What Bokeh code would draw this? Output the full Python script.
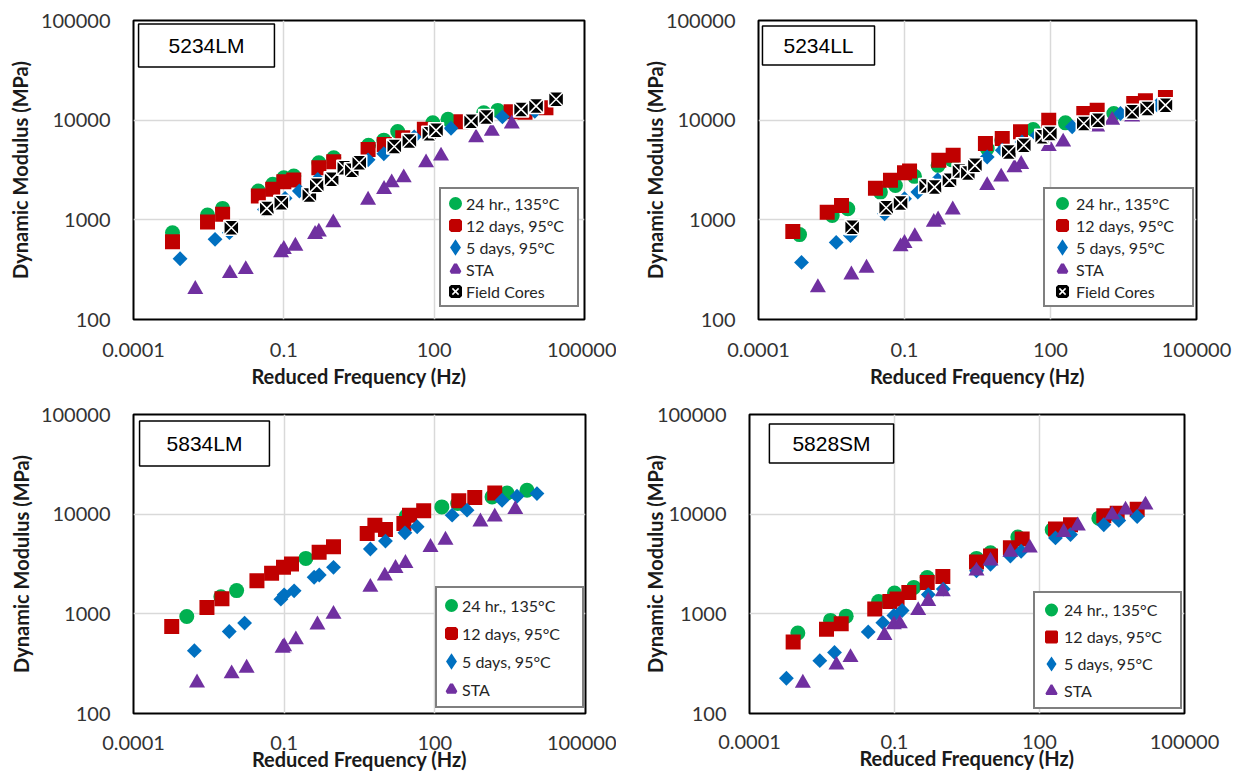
from bokeh.plotting import figure
from bokeh.models import (Range1d, FixedTicker, CustomJSTickFormatter, Legend,
                          LegendItem, Label)
from bokeh.layouts import row, column
from bokeh.embed import file_html
from bokeh.resources import INLINE
import math

# ---------------- data ----------------
series_labels = ["24 hr., 135°C", "12 days, 95°C", "5 days, 95°C", "STA", "Field Cores"]
x_ticks = [0.0001, 0.1, 100, 100000]
y_ticks = [100, 1000, 10000, 100000]

# Panel 5234LM
lm_24hr_f = [6.0e-4, 3.0e-3, 6.0e-3, 0.031, 0.06, 0.10, 0.158, 0.50, 0.99, 4.9, 9.9, 18.7, 94, 189, 977, 1860]
lm_24hr_e = [743, 1117, 1303, 1945, 2270, 2645, 2750, 3740, 4200, 5600, 6300, 7700, 9420, 10200, 11860, 12530]
lm_12d_f = [6.0e-4, 3.0e-3, 6.0e-3, 0.031, 0.06, 0.10, 0.158, 0.50, 0.99, 4.8, 10.1, 23.6, 63.7, 344, 3430, 6500, 17000]
lm_12d_e = [603, 950, 1135, 1733, 2023, 2410, 2510, 3335, 3830, 5090, 5710, 6670, 8090, 9640, 12160, 12000, 13300]
lm_5d_f = [8.5e-4, 4.24e-3, 8.2e-3, 0.041, 0.106, 0.204, 0.475, 4.8, 9.9, 40, 217, 2300, 10200]
lm_5d_e = [407, 637, 743, 1273, 1643, 1945, 2547, 4000, 4600, 6800, 8300, 10800, 12300]
lm_sta_f = [1.71e-3, 8.4e-3, 0.0174, 0.088, 0.10, 0.17, 0.42, 0.50, 0.97, 4.8, 10, 14.2, 24.7, 68.9, 137, 686, 1412, 3540]
lm_sta_e = [201, 290, 318, 468, 506, 546, 715, 755, 935, 1580, 2023, 2356, 2645, 3740, 4370, 6670, 7760, 9200]
lm_fc_f = [8.95e-3, 0.0457, 0.089, 0.323, 0.454, 0.90, 1.61, 2.27, 3.2, 16, 32, 80, 109, 546, 1087, 5430, 10800, 27100]
lm_fc_e = [833, 1303, 1486, 1774, 2218, 2547, 3335, 3140, 3740, 5450, 6170, 7310, 7900, 9780, 10740, 12830, 13840, 16180]

# Panel 5234LL
ll_24hr_f = [6.97e-4, 3.27e-3, 6.85e-3, 0.032, 0.065, 0.16, 0.49, 0.95, 5.0, 10, 44, 203, 2000, 10300]
ll_24hr_e = [711, 1105, 1290, 1897, 2213, 2730, 3520, 4000, 5190, 6300, 8050, 9400, 11670, 13600]
ll_12d_f = [5.07e-4, 2.58e-3, 5.08e-3, 0.0253, 0.0515, 0.10, 0.127, 0.507, 1.0, 4.6, 10.2, 24.2, 92, 483, 910, 5130, 8920, 23000]
ll_12d_e = [762, 1193, 1393, 2080, 2490, 2970, 3090, 3950, 4440, 5820, 6550, 7640, 10000, 11670, 12600, 14720, 15630, 16900]
ll_5d_f = [7.65e-4, 3.95e-3, 7.76e-3, 0.039, 0.10, 0.188, 0.48, 5.0, 10.2, 26, 53, 279, 2740, 15600]
ll_5d_e = [374, 594, 695, 1149, 1626, 1897, 2530, 4270, 4990, 6050, 7060, 8570, 11670, 14150]
ll_sta_f = [1.66e-3, 8.1e-3, 0.0166, 0.083, 0.10, 0.163, 0.40, 0.49, 0.98, 5.0, 9.7, 18.2, 25, 92, 182, 910, 1850, 4760]
ll_sta_e = [209, 281, 328, 538, 581, 679, 946, 1000, 1260, 2213, 2690, 3340, 3610, 5470, 6050, 8570, 10000, 10800]
ll_fc_f = [8.4e-3, 0.042, 0.083, 0.279, 0.413, 0.84, 1.35, 2.0, 2.8, 13.9, 28.3, 67.5, 97, 483, 937, 4760, 9700, 23000]
ll_fc_e = [843, 1321, 1472, 2180, 2130, 2490, 3090, 2950, 3520, 4800, 5600, 6800, 7350, 9250, 10000, 12130, 13100, 14150]

# Panel 5834LM
m8_24hr_f = [1.15e-3, 5.5e-3, 0.0113, 0.27, 27, 138, 285, 1380, 2740, 6840]
m8_24hr_e = [940, 1480, 1710, 3600, 9550, 11830, 12800, 14900, 16330, 17380]
m8_12d_f = [5.77e-4, 2.9e-3, 5.77e-3, 0.0287, 0.0562, 0.097, 0.14, 0.497, 0.96, 4.5, 6.4, 10.4, 24.2, 31.3, 60, 300, 624, 1560]
m8_12d_e = [747, 1157, 1413, 2150, 2550, 2930, 3160, 4140, 4710, 6410, 7760, 7030, 8070, 9770, 10800, 13600, 14690, 16330]
m8_5d_f = [1.63e-3, 8.07e-3, 0.0163, 0.086, 0.10, 0.158, 0.395, 0.5, 0.96, 5.2, 10.4, 25.4, 44.5, 221, 438, 2180, 4330, 10800]
m8_5d_e = [427, 665, 807, 1403, 1550, 1700, 2330, 2450, 2930, 4470, 5370, 6500, 7470, 9770, 10960, 13800, 15140, 16100]
m8_sta_f = [1.84e-3, 9.0e-3, 0.0179, 0.093, 0.10, 0.171, 0.46, 0.96, 5.2, 10.1, 16.5, 26, 82, 163, 808, 1560, 4000]
m8_sta_e = [203, 251, 286, 454, 470, 550, 776, 993, 1850, 2400, 2860, 3210, 4650, 5500, 8380, 9400, 11140]

# Panel 5828SM
sm_24hr_f = [1.0e-3, 4.74e-3, 0.01, 0.047, 0.10, 0.251, 0.475, 4.97, 9.7, 35.6, 183, 1690]
sm_24hr_e = [643, 859, 948, 1327, 1618, 1842, 2313, 3600, 4100, 5910, 6980, 9120]
sm_12d_f = [8.0e-4, 3.92e-3, 7.9e-3, 0.039, 0.08, 0.113, 0.198, 0.475, 1.0, 4.97, 9.7, 25, 43.8, 214, 438, 2140, 4050, 10500]
sm_12d_e = [523, 700, 796, 1121, 1327, 1409, 1641, 2066, 2366, 3310, 3800, 4590, 5650, 7090, 7830, 9620, 10230, 11210]
sm_5d_f = [5.8e-4, 2.85e-3, 5.74e-3, 0.0286, 0.0573, 0.097, 0.144, 0.5, 1.02, 4.97, 9.7, 25, 41.7, 214, 438, 2140, 4370, 10500]
sm_5d_e = [226, 339, 410, 658, 815, 964, 1081, 1561, 1771, 2700, 3140, 3800, 4250, 5780, 6240, 7830, 8650, 9480]
sm_sta_f = [1.27e-3, 6.3e-3, 0.0123, 0.062, 0.097, 0.129, 0.309, 0.5, 1.0, 4.97, 9.7, 25, 63, 318, 621, 3190, 6030, 15600]
sm_sta_e = [202, 307, 365, 609, 778, 796, 1081, 1336, 1667, 2690, 3390, 4170, 4590, 6580, 7650, 9840, 11040, 12360]

# ---------------- styling ----------------
GREEN, RED, BLUE, PURPLE = "#00B050", "#C00000", "#0070C0", "#7030A0"
TICK_FONT = "Lato"
fmt_code = "return tick.toString();"


def make_panel(name, series, width, height, borders, ylab_standoff, xlab_standoff,
               xtitle_standoff, box, legend_cfg):
    bl, br, bt, bb = borders
    p = figure(width=width, height=height, x_axis_type="log", y_axis_type="log",
               x_range=Range1d(x_ticks[0], x_ticks[-1]),
               y_range=Range1d(y_ticks[0], y_ticks[-1]),
               toolbar_location=None, output_backend="svg",
               min_border_left=bl, min_border_right=br,
               min_border_top=bt, min_border_bottom=bb)
    p.background_fill_color = "white"
    p.border_fill_color = "white"
    p.outline_line_color = "black"
    p.outline_line_width = 2

    for ax, ticks in ((p.xaxis, x_ticks), (p.yaxis, y_ticks)):
        ax.ticker = FixedTicker(ticks=ticks)
        ax.formatter = CustomJSTickFormatter(code=fmt_code)
        ax.axis_line_color = None
        ax.major_tick_line_color = None
        ax.minor_tick_line_color = None
        ax.major_tick_in = 0
        ax.major_tick_out = 0
        ax.major_label_text_font = TICK_FONT
        ax.major_label_text_font_size = "20px"
        ax.major_label_text_color = "#333333"
        ax.axis_label_text_font = TICK_FONT
        ax.axis_label_text_font_size = "20px"
        ax.axis_label_text_font_style = "bold"
        ax.axis_label_text_color = "#1a1a1a"
    p.xaxis.axis_label = "Reduced Frequency (Hz)"
    p.yaxis.axis_label = "Dynamic Modulus (MPa)"
    p.yaxis.major_label_standoff = 23
    p.yaxis.axis_label_standoff = ylab_standoff
    p.xaxis.major_label_standoff = xlab_standoff
    p.xaxis.axis_label_standoff = xtitle_standoff

    for g in (p.xgrid, p.ygrid):
        g.grid_line_color = "#D9D9D9"
        g.grid_line_width = 1.5

    vx, vy, gw, gh, lw, pad = legend_cfg
    extra = max(0.0, 13.0 - 0.4 * min(gw, gh))   # outline that enlarges legend markers

    items = []
    for (f, e, kind) in series:
        if kind == 0:
            p.scatter(f, e, marker="circle", size=15, fill_color=GREEN, line_color=None)
            d = [p.scatter(f, e, marker="circle", fill_color=GREEN, line_color=GREEN,
                           line_width=extra, visible=False)]
        elif kind == 1:
            p.scatter(f, e, marker="square", size=15, fill_color=RED, line_color=None)
            d = [p.scatter(f, e, marker="square", fill_color=RED, line_color=RED,
                           line_width=extra, visible=False)]
        elif kind == 2:
            p.scatter(f, e, marker="square", size=10.5, angle=math.pi / 4,
                      fill_color=BLUE, line_color=None)
            d = [p.scatter(f, e, marker="diamond", fill_color=BLUE, line_color=BLUE,
                           line_width=extra, line_join="miter", visible=False)]
        elif kind == 3:
            p.scatter(f, e, marker="triangle", size=16, fill_color=PURPLE, line_color=None)
            d = [p.scatter(f, e, marker="triangle", fill_color=PURPLE, line_color=PURPLE,
                           line_width=extra * 0.8, visible=False)]
        else:
            p.scatter(f, e, marker="square_x", size=15, fill_color="black",
                      line_color="white", line_width=1.5)
            d = [p.scatter(f, e, marker="square", fill_color="black", line_color="black",
                           line_width=extra, visible=False),
                 p.scatter(f, e, marker="x", line_color="white", line_width=1.5,
                           visible=False)]
        items.append(LegendItem(label=series_labels[kind], renderers=d))

    leg = Legend(items=items, location=(vx, vy), orientation="vertical",
                 glyph_width=gw, glyph_height=gh, label_standoff=0, label_width=lw,
                 label_height=gh, spacing=0, padding=pad, margin=0,
                 border_line_color="black", border_line_width=2,
                 background_fill_color="white", background_fill_alpha=1.0,
                 inactive_fill_alpha=0.0,
                 label_text_font=TICK_FONT, label_text_font_size="16px",
                 label_text_color="#262626")
    p.add_layout(leg)

    bx, by, ph, pv = box
    p.add_layout(Label(x=bx, y=by, x_units="screen", y_units="screen", text=name,
                       text_align="center", text_baseline="middle",
                       text_font="Liberation Sans", text_font_size="21px",
                       text_color="black", border_line_color="black",
                       border_line_width=1.5, background_fill_color="white",
                       padding=(ph, pv)))
    return p


p1 = make_panel("5234LM",
                [(lm_24hr_f, lm_24hr_e, 0), (lm_12d_f, lm_12d_e, 1), (lm_5d_f, lm_5d_e, 2),
                 (lm_sta_f, lm_sta_e, 3), (lm_fc_f, lm_fc_e, 4)],
                616, 390, (133, 32, 20, 71), 6, 23, 4,
                (73, 274, 30, 10), (306, 12, 22, 22, 108, 3))
p2 = make_panel("5234LL",
                [(ll_24hr_f, ll_24hr_e, 0), (ll_12d_f, ll_12d_e, 1), (ll_5d_f, ll_5d_e, 2),
                 (ll_sta_f, ll_sta_e, 3), (ll_fc_f, ll_fc_e, 4)],
                625, 390, (142, 45, 20, 70), -4, 23, 4,
                (60, 274, 21, 8), (285, 12, 28, 22, 113, 3))
p3 = make_panel("5834LM",
                [(m8_24hr_f, m8_24hr_e, 0), (m8_12d_f, m8_12d_e, 1), (m8_5d_f, m8_5d_e, 2),
                 (m8_sta_f, m8_sta_e, 3)],
                616, 384, (133, 31, 24, 61), 5, 22, -6,
                (71, 270, 27, 11), (302, 5, 22, 28, 117, 3))
p4 = make_panel("5828SM",
                [(sm_24hr_f, sm_24hr_e, 0), (sm_12d_f, sm_12d_e, 1), (sm_5d_f, sm_5d_e, 2),
                 (sm_sta_f, sm_sta_e, 3)],
                625, 384, (133, 57, 21, 61), -13, 21, -6,
                (82, 270, 23, 8), (284, 4, 26, 27, 113, 3))

layout = column(row(p1, p2, spacing=0), row(p3, p4, spacing=0), spacing=0)
open("out.html", "w").write(file_html(layout, INLINE))
